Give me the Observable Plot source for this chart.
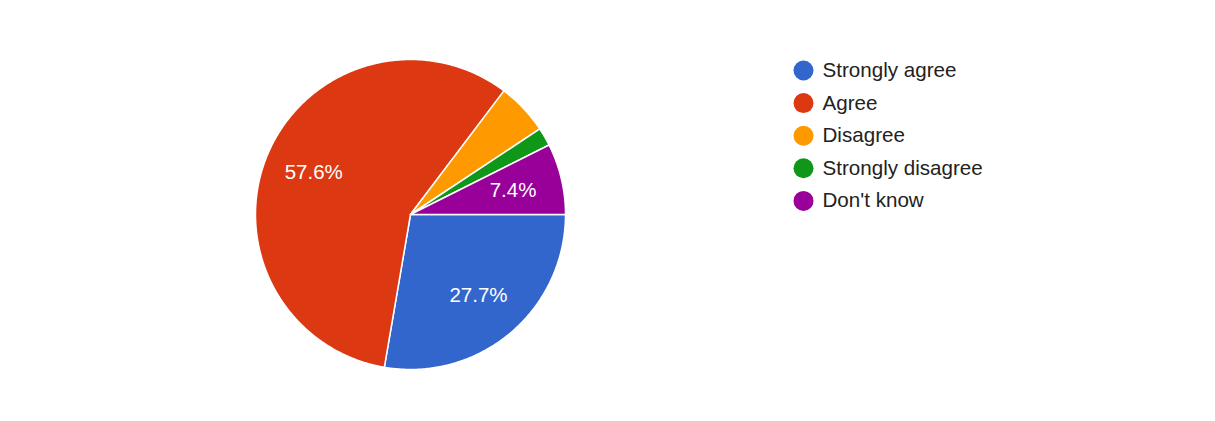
<!DOCTYPE html>
<html>
<head>
<meta charset="utf-8">
<script src="https://cdn.jsdelivr.net/npm/d3@7"></script>
<script src="https://cdn.jsdelivr.net/npm/@observablehq/plot@0.6"></script>
<style>
  html, body { margin: 0; padding: 0; background: #fff; }
  #chart { width: 1215px; height: 421px; }
</style>
</head>
<body>
<div id="chart"></div>
<script>
const categories = ["Strongly agree", "Agree", "Disagree", "Strongly disagree", "Don't know"];
const percents = [27.7, 57.6, 5.4, 1.9, 7.4];
const colors = ["#3366cc", "#dc3912", "#ff9900", "#109618", "#990099"];
const labels = ["27.7%", "57.6%", "", "", "7.4%"];

const W = 1215, H = 421;
const cx = 410, cy = 214, R = 155;
// data units: 1 = radius
const xDomain = [-cx / R, (W - cx) / R];
const yDomain = [-(H - cy) / R, cy / R];

// slices, clockwise from 3 o'clock (angle measured clockwise from top)
const total = d3.sum(percents);
let start = Math.PI / 2;
const slicePts = [];
const labelPts = [];
categories.forEach((c, i) => {
  const span = percents[i] / total * 2 * Math.PI;
  const end = start + span;
  const n = Math.max(4, Math.ceil(span / 0.01));
  slicePts.push({key: c, x: 0, y: 0});
  for (let k = 0; k <= n; k++) {
    const a = start + span * k / n;
    slicePts.push({key: c, x: Math.sin(a), y: Math.cos(a)});
  }
  slicePts.push({key: c, x: 0, y: 0});
  const mid = (start + end) / 2;
  labelPts.push({key: c, text: labels[i], x: 0.68 * Math.sin(mid), y: 0.68 * Math.cos(mid)});
  start = end;
});

// legend entries
const legendX = (803 - cx) / R;
const legend = categories.map((c, i) => ({key: c, x: legendX, y: (cy - (70 + i * 32.6)) / R}));

const chart = Plot.plot({
  width: W,
  height: H,
  margin: 0,
  x: {domain: xDomain, range: [0, W], axis: null},
  y: {domain: yDomain, range: [H, 0], axis: null},
  color: {type: "ordinal", domain: categories, range: colors},
  style: {fontFamily: "Arial, 'Liberation Sans', sans-serif", background: "#fff"},
  marks: [
    Plot.line(slicePts, {x: "x", y: "y", z: "key", fill: "key", stroke: "white", strokeWidth: 1.5, strokeLinejoin: "round", curve: "linear"}),
    Plot.text(labelPts, {x: "x", y: "y", text: "text", fill: "white", fontSize: 20.5, textAnchor: "middle"}),
    Plot.dot(legend, {x: "x", y: "y", r: 10, fill: "key", stroke: null}),
    Plot.text(legend, {x: "x", y: "y", text: "key", dx: 19, textAnchor: "start", fill: "#222222", fontSize: 20.6})
  ]
});
document.getElementById("chart").appendChild(chart);
</script>
</body>
</html>
